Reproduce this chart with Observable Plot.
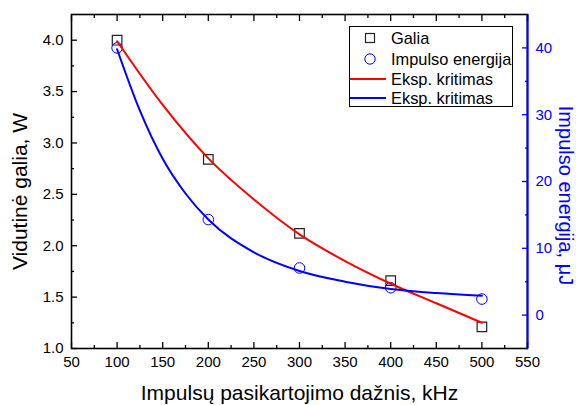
<!DOCTYPE html>
<html>
<head>
<meta charset="utf-8">
<script src="https://cdn.jsdelivr.net/npm/d3@7"></script>
<script src="https://cdn.jsdelivr.net/npm/@observablehq/plot@0.6"></script>
<style>
  html, body { margin: 0; padding: 0; background: #fff; }
  #wrap { position: relative; width: 576px; height: 405px; font-family: "Liberation Sans", Arial, sans-serif; }
  #legend { position: absolute; left: 349px; top: 26px; width: 164px; height: 81px; border: 1px solid #000; background: #fff; box-sizing: border-box; }
  .row { position: absolute; left: 0; height: 20px; width: 100%; }
  .row svg { position: absolute; left: 0; top: 0; }
  .row span { position: absolute; left: 41px; top: 1px; font-size: 16.4px; line-height: 18px; color: #000; white-space: nowrap; }
</style>
</head>
<body>
<div id="wrap"></div>
<script>
// ---- data ----
const freq = [100, 200, 300, 400, 500];                 // kHz
const galia = [4.0, 2.84, 2.12, 1.66, 1.21];            // W
const energija = [40.0, 14.3, 7.05, 4.1, 2.4];          // µJ
const fitGaliaX = [100, 150, 200, 250, 300, 350, 400, 450, 500];
const fitGaliaY = [3.99, 3.37, 2.85, 2.45, 2.11, 1.85, 1.63, 1.44, 1.25];
const fitEnergijaX = [100, 125, 150, 175, 200, 250, 300, 350, 400, 450, 500];
const fitEnergijaY = [39.8, 30.6, 23.4, 18.2, 14.3, 9.4, 6.6, 5.0, 3.9, 3.3, 2.9];
const xDomain = [50, 550];
const yDomain = [1.0, 4.25];
const eDomain = [-5, 45];
const xMajor = [50, 100, 150, 200, 250, 300, 350, 400, 450, 500, 550];
const xMinor = [75, 125, 175, 225, 275, 325, 375, 425, 475, 525];
const yMajor = [1.0, 1.5, 2.0, 2.5, 3.0, 3.5, 4.0];
const yMinor = [1.25, 1.75, 2.25, 2.75, 3.25, 3.75];
const eMajor = [0, 10, 20, 30, 40];
const eMinor = [-5, 5, 15, 25, 35];

const RED = "#ff0000", BLUE = "#0000ff";
// map energy (right axis) onto the left y scale
const e2y = d3.scaleLinear().domain(eDomain).range(yDomain);

const ptsG = freq.map((f, i) => ({x: f, y: galia[i]}));
const ptsE = freq.map((f, i) => ({x: f, y: e2y(energija[i])}));
const lineG = fitGaliaX.map((f, i) => ({x: f, y: fitGaliaY[i]}));
const lineE = fitEnergijaX.map((f, i) => ({x: f, y: e2y(fitEnergijaY[i])}));

const TS = 15;
const tickOpts = (o) => Object.assign({fill: "none", label: null, strokeWidth: 1.3}, o);
const textOpts = (o) => Object.assign({tickSize: 0, tickPadding: 8, fontSize: TS, label: null}, o);
const titleOpts = (o) => Object.assign({fontSize: 21, textAnchor: "middle", lineAnchor: "middle"}, o);
const chart = Plot.plot({
  width: 576, height: 405,
  marginLeft: 71, marginRight: 49, marginTop: 14, marginBottom: 57,
  style: {fontFamily: "Liberation Sans, Arial, sans-serif", fontSize: TS + "px", background: "#fff"},
  x: {domain: xDomain},
  y: {domain: yDomain},
  marks: [
    // data markers
    Plot.dot(ptsG, {x: "x", y: "y", symbol: "square", r: 5.4, stroke: "#222", strokeWidth: 1.2, fill: "none"}),
    Plot.dot(ptsE, {x: "x", y: "y", symbol: "circle", r: 5.3, stroke: BLUE, strokeWidth: 1, fill: "none"}),
    // fit curves
    Plot.line(lineG, {x: "x", y: "y", stroke: RED, strokeWidth: 2, curve: "monotone-x"}),
    Plot.line(lineE, {x: "x", y: "y", stroke: BLUE, strokeWidth: 2, curve: "monotone-x"}),
    // frame & axes
    Plot.frame({stroke: "#000", strokeWidth: 1.6}),
    Plot.ruleX([xDomain[1]], {stroke: BLUE, strokeWidth: 2}),
    // bottom axis
    Plot.axisX(xMajor, tickOpts({anchor: "bottom", tickSize: 6, dy: -6})),
    Plot.axisX(xMinor, tickOpts({anchor: "bottom", tickSize: 3, dy: -3})),
    Plot.axisX(xMajor, textOpts({anchor: "bottom", fill: "#000"})),
    // top axis ticks
    Plot.axisX(xMajor, tickOpts({anchor: "top", tickSize: 6, dy: 6})),
    Plot.axisX(xMinor, tickOpts({anchor: "top", tickSize: 3, dy: 3})),
    // left axis
    Plot.axisY(yMajor, tickOpts({anchor: "left", tickSize: 6, dx: 6})),
    Plot.axisY(yMinor, tickOpts({anchor: "left", tickSize: 3, dx: 3})),
    Plot.axisY(yMajor, textOpts({anchor: "left", fill: "#000", tickFormat: d3.format(".1f")})),
    // right axis (energy)
    Plot.axisY(eMajor.map(e2y), tickOpts({anchor: "right", tickSize: 6, dx: -6, stroke: BLUE})),
    Plot.axisY(eMinor.map(e2y), tickOpts({anchor: "right", tickSize: 3, dx: -3, stroke: BLUE})),
    Plot.axisY(eMajor.map(e2y), textOpts({anchor: "right", fill: BLUE, tickFormat: v => d3.format("d")(Math.round(e2y.invert(v)))})),
    // axis titles
    Plot.text(["Impulsų pasikartojimo dažnis, kHz"], titleOpts({frameAnchor: "bottom", dy: 45, fill: "#000"})),
    Plot.text(["Vidutinė galia, W"], titleOpts({frameAnchor: "left", dx: -51, dy: 10, rotate: -90, fill: "#000"})),
    Plot.text(["Impulso energija, μJ"], titleOpts({frameAnchor: "right", dx: 38, dy: 14, rotate: 90, fontSize: 20, fill: BLUE}))
  ]
});
const wrap = document.getElementById("wrap");
wrap.appendChild(chart);

// legend
const legendItems = [
  {label: "Galia", kind: "square", color: "#222"},
  {label: "Impulso energija", kind: "circle", color: BLUE},
  {label: "Eksp. kritimas", kind: "line", color: RED},
  {label: "Eksp. kritimas", kind: "line", color: BLUE}
];
const lg = document.createElement("div");
lg.id = "legend";
const rowTops = [1, 22, 42, 61];
legendItems.forEach((it, i) => {
  const row = document.createElement("div");
  row.className = "row";
  row.style.top = rowTops[i] + "px";
  let sym = "";
  if (it.kind === "square") sym = `<rect x="15.5" y="5.5" width="9" height="9" fill="none" stroke="${it.color}" stroke-width="1.2"/>`;
  else if (it.kind === "circle") sym = `<circle cx="20" cy="10" r="5.2" fill="none" stroke="${it.color}" stroke-width="1"/>`;
  else sym = `<line x1="0" y1="10" x2="36" y2="10" stroke="${it.color}" stroke-width="2"/>`;
  row.innerHTML = `<svg width="40" height="20">${sym}</svg><span>${it.label}</span>`;
  lg.appendChild(row);
});
wrap.appendChild(lg);
</script>
</body>
</html>
